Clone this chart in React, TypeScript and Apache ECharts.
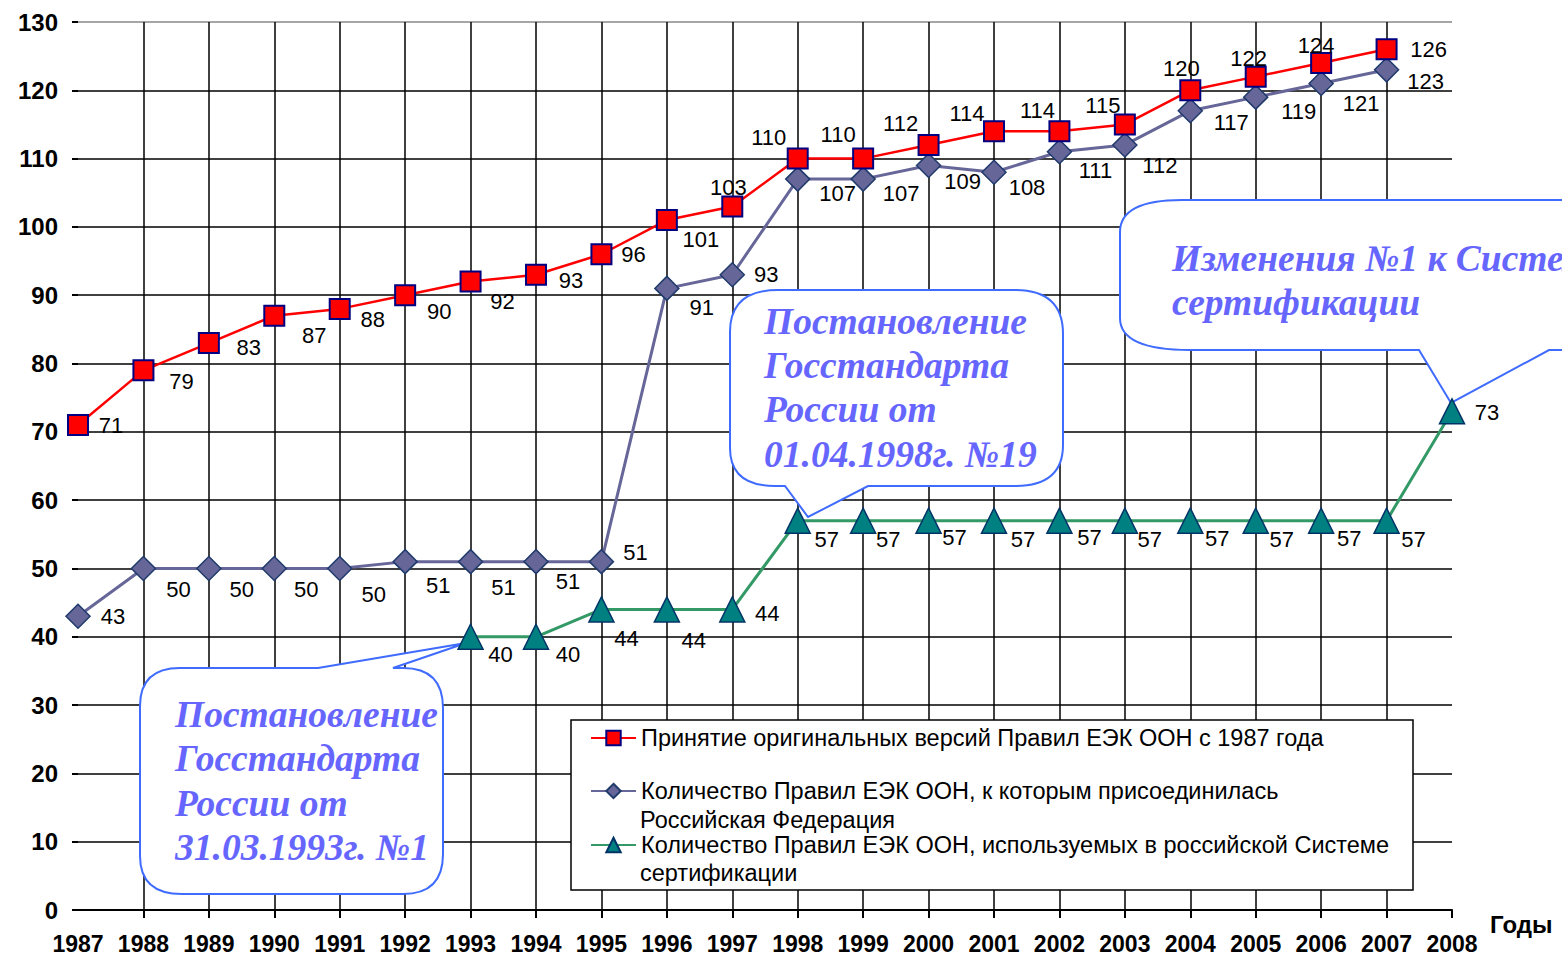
import React, { useEffect, useRef } from "react";
import * as echarts from "echarts";

const years = ["1987","1988","1989","1990","1991","1992","1993","1994","1995","1996","1997","1998","1999","2000","2001","2002","2003","2004","2005","2006","2007","2008"];

const adoptedOriginal: (number | null)[] = [71,79,83,87,88,90,92,93,96,101,103,110,110,112,114,114,115,120,122,124,126,null];
const joinedByRussia: (number | null)[] = [43,50,50,50,50,51,51,51,51,91,93,107,107,109,108,111,112,117,119,121,123,null];
const usedInCertification: (number | null)[] = [null,null,null,null,null,null,40,40,44,44,44,57,57,57,57,57,57,57,57,57,57,73];

const yTicks = [0,10,20,30,40,50,60,70,80,90,100,110,120,130];

const seriesNames = [
  "Принятие оригинальных версий Правил ЕЭК ООН с 1987 года",
  "Количество Правил ЕЭК ООН, к которым присоединилась Российская Федерация",
  "Количество Правил ЕЭК ООН, используемых в российской Системе сертификации",
];
const legendFirstLines = [
  "Принятие оригинальных версий Правил ЕЭК ООН с 1987 года",
  "Количество Правил ЕЭК ООН, к которым присоединилась",
  "Количество Правил ЕЭК ООН, используемых в российской Системе",
];
const legendSecondLines = ["", "Российская Федерация", "сертификации"];

const callout1Text = "Постановление\nГосстандарта\nРоссии от\n31.03.1993г. №1";
const callout2Text = "Постановление\nГосстандарта\nРоссии от\n01.04.1998г. №19";
const callout3Text = "Изменения №1 к Системе\nсертификации";

// label offsets (style, not data)
const redOffsets: number[][] = [[33,0],[38,11],[40,4],[40,20],[33,11],[34,16],[32,20],[35,6],[32,0],[34,19],[-4,-19],[-29,-21],[-25,-24],[-28,-21],[-27,-18],[-22,-21],[-22,-19],[-9,-22],[-7,-18],[-5,-17],[42,0],[0,0]];
const purpleOffsets: number[][] = [[35,0],[35,21],[33,21],[32,21],[34,26],[33,24],[33,26],[32,20],[34,-9],[35,19],[34,0],[40,14],[38,14],[34,16],[33,15],[36,19],[35,21],[41,12],[43,14],[40,20],[39,12],[0,0]];
const greenOffsets: number[][] = [[0,0],[0,0],[0,0],[0,0],[0,0],[0,0],[30,18],[32,18],[25,29],[27,31],[35,4],[29,19],[25,19],[26,17],[29,19],[30,17],[25,19],[27,18],[26,19],[28,18],[27,19],[35,1]];

const c1 = "M180 668 L318 668 L466 643 L393 668 L403 668 Q443 668 443 708 L443 854 Q443 894 403 894 L182 894 Q140 894 140 856 L140 706 Q140 668 180 668 Z";
const c2 = "M778 290 L1015 290 Q1063 290 1063 334 L1063 445 Q1063 486 1015 486 L868 486 L808 517 L785 486 L775 486 Q730 486 730 448 L730 332 Q730 290 778 290 Z";
const c3 = "M1182 200 L1600 200 Q1640 200 1640 240 L1640 310 Q1640 350 1600 350 L1549 350 L1451 403 L1419 350 L1190 350 Q1120 350 1120 318 L1120 232 Q1120 200 1182 200 Z";

let registered = false;
function registerShapes() {
  if (registered) return;
  registered = true;
  echarts.graphic.registerShape("callout1", echarts.graphic.extendPath(c1, {}));
  echarts.graphic.registerShape("callout2", echarts.graphic.extendPath(c2, {}));
  echarts.graphic.registerShape("callout3", echarts.graphic.extendPath(c3, {}));
}

const labelFont = { color: "#000", fontSize: 22, fontFamily: "Arial, 'Liberation Sans', sans-serif" };
const legendFontSize = 23.5;

function buildData(vals: (number | null)[], offs: number[][]) {
  return vals.map((v, i) =>
    v == null ? "-" : { value: v, label: { offset: offs[i] } }
  );
}

export default function App() {
  const ref = useRef<HTMLDivElement>(null);
  useEffect(() => {
    if (!ref.current) return;
    registerShapes();
    const chart = echarts.init(ref.current, undefined, { renderer: "svg" });
    const calloutStyle = { fill: "#fff", stroke: "#3F6BFF", lineWidth: 2 };
    const calloutFont = "italic bold 37.5px 'Liberation Serif', 'Times New Roman', serif";
    const calloutColor = "#6666FF";
    const legendBase = {
      orient: "vertical",
      left: 590,
      padding: 0,
      itemWidth: 45,
      itemHeight: 18,
      itemGap: 0,
      selectedMode: false,
      z: 6,
    };
    const legendText = { ...labelFont, fontSize: legendFontSize, lineHeight: 29 };
    const legendTextGraphic = `${legendFontSize}px Arial, 'Liberation Sans', sans-serif`;
    const splitColors = yTicks.map((t) => (t === 130 ? "#888" : "#000"));
    chart.setOption({
      animation: false,
      backgroundColor: "#fff",
      grid: { left: 78, right: 110, top: 22, bottom: 47, containLabel: false, outerBoundsMode: "none" },
      xAxis: {
        type: "category",
        data: years,
        boundaryGap: false,
        name: "Годы",
        nameLocation: "end",
        nameGap: 38,
        nameTextStyle: { color: "#000", fontSize: 24, fontWeight: "bold", fontFamily: "Arial, sans-serif", verticalAlign: "top", align: "left", padding: [2, 0, 0, 0] },
        axisLine: { show: true, lineStyle: { color: "#000", width: 2 } },
        axisTick: { show: true, length: 8, interval: (i: number) => i > 0, lineStyle: { color: "#000", width: 2 } },
        axisLabel: { interval: 0, margin: 22, color: "#000", fontSize: 23, fontWeight: "bold", fontFamily: "Arial, sans-serif" },
        splitLine: { show: true, interval: (i: number) => i > 0 && i < years.length - 1, lineStyle: { color: "#000", width: 1.5 } },
      },
      yAxis: {
        type: "value",
        min: 0,
        max: 130,
        interval: 10,
        axisLine: { show: false },
        axisTick: { show: true, length: 6, lineStyle: { color: "#000", width: 2 } },
        axisLabel: { margin: 20, color: "#000", fontSize: 24, fontWeight: "bold", fontFamily: "Arial, sans-serif" },
        splitLine: { show: true, lineStyle: { color: splitColors, width: 1.5 } },
      },
      legend: [
        { ...legendBase, top: 723.5, data: [seriesNames[0]], formatter: () => legendFirstLines[0], textStyle: legendText },
        { ...legendBase, top: 776.5, data: [seriesNames[1]], formatter: () => legendFirstLines[1], textStyle: legendText },
        { ...legendBase, top: 830.5, data: [seriesNames[2]], formatter: () => legendFirstLines[2], textStyle: legendText },
      ],
      graphic: {
        elements: [
          { type: "rect", z: 1, shape: { x: 571, y: 720, width: 842, height: 170 }, style: { fill: "#fff", stroke: "#000", lineWidth: 1.5 } },
          { type: "text", z: 6, x: 640, y: 820, style: { text: legendSecondLines[1], font: legendTextGraphic, fill: "#000", verticalAlign: "middle" } },
          { type: "text", z: 6, x: 640, y: 873, style: { text: legendSecondLines[2], font: legendTextGraphic, fill: "#000", verticalAlign: "middle" } },
          { type: "callout1", z: 1, x: 0, y: 0, style: calloutStyle },
          { type: "text", z: 1, z2: 10, x: 175, y: 692, style: { text: callout1Text, font: calloutFont, fill: calloutColor, lineHeight: 44.5 } },
          { type: "callout2", z: 1, x: 0, y: 0, style: calloutStyle },
          { type: "text", z: 1, z2: 10, x: 764, y: 299, style: { text: callout2Text, font: calloutFont, fill: calloutColor, lineHeight: 44.3 } },
          { type: "callout3", z: 1, x: 0, y: 0, style: calloutStyle },
          { type: "text", z: 1, z2: 10, x: 1172, y: 236, style: { text: callout3Text, font: calloutFont, fill: calloutColor, lineHeight: 44 } },
        ],
      },
      series: [
        {
          name: seriesNames[0],
          type: "line",
          data: buildData(adoptedOriginal, redOffsets),
          symbol: "rect",
          symbolSize: 20,
          lineStyle: { color: "#FF0000", width: 2.5 },
          itemStyle: { color: "#FF0000", borderColor: "#000080", borderWidth: 2 },
          label: { show: true, position: "inside", ...labelFont },
          z: 4,
        },
        {
          name: seriesNames[1],
          type: "line",
          data: buildData(joinedByRussia, purpleOffsets),
          symbol: "diamond",
          symbolSize: 24,
          lineStyle: { color: "#666699", width: 3 },
          itemStyle: { color: "#666699", borderColor: "#1F3A6B", borderWidth: 1.5 },
          label: { show: true, position: "inside", ...labelFont },
          z: 3,
        },
        {
          name: seriesNames[2],
          type: "line",
          data: buildData(usedInCertification, greenOffsets),
          symbol: "triangle",
          symbolSize: 25,
          lineStyle: { color: "#339966", width: 3 },
          itemStyle: { color: "#008080", borderColor: "#003366", borderWidth: 1.5 },
          label: { show: true, position: "inside", ...labelFont },
          z: 3,
        },
      ],
    });
    return () => chart.dispose();
  }, []);
  return <div ref={ref} style={{ position: "fixed", left: 0, top: 0, width: 1562, height: 957 }} />;
}
